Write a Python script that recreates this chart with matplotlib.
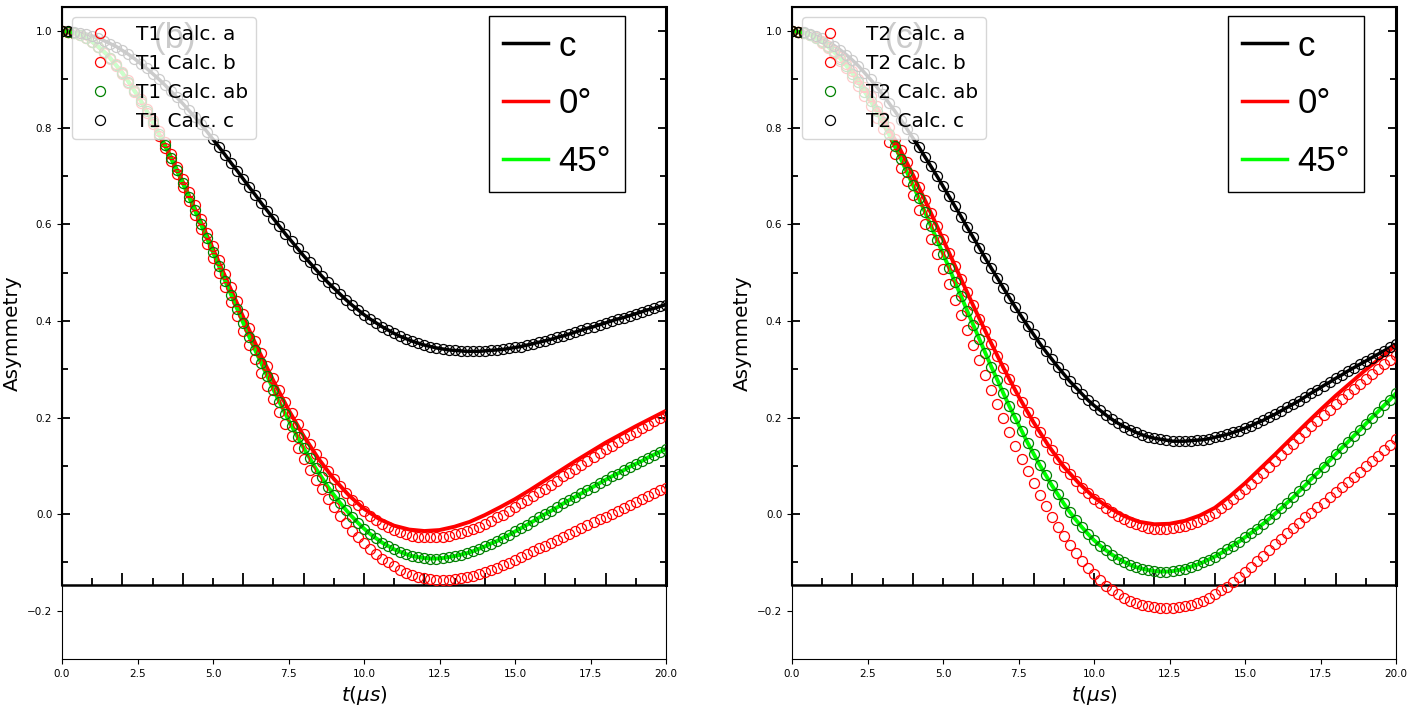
import numpy as np
import matplotlib
matplotlib.use('Agg')
import matplotlib.pyplot as plt
from matplotlib.lines import Line2D

# time grids: calc points every 0.2 us, scanned 0 deg curve every 0.5 us
t_calc = np.linspace(0.0, 20.0, 101)
t_scan = np.linspace(0.0, 20.0, 41)

# ---- panel (b) : T1 ----
t1_calc_a = [1.000, 0.999, 0.996, 0.992, 0.985, 0.977, 0.967, 0.955, 0.942, 0.927,
             0.911, 0.893, 0.873, 0.852, 0.830, 0.807, 0.783, 0.758, 0.732, 0.705,
             0.677, 0.648, 0.619, 0.590, 0.560, 0.530, 0.500, 0.470, 0.440, 0.410,
             0.380, 0.351, 0.322, 0.293, 0.265, 0.238, 0.212, 0.186, 0.161, 0.137,
             0.114, 0.092, 0.071, 0.051, 0.032, 0.014, -0.003, -0.019, -0.034, -0.047,
             -0.060, -0.072, -0.082, -0.092, -0.100, -0.108, -0.115, -0.121, -0.126, -0.130,
             -0.133, -0.135, -0.136, -0.137, -0.136, -0.135, -0.133, -0.131, -0.128, -0.124,
             -0.120, -0.116, -0.111, -0.106, -0.101, -0.095, -0.089, -0.083, -0.077, -0.071,
             -0.065, -0.059, -0.053, -0.047, -0.041, -0.035, -0.029, -0.023, -0.017, -0.011,
             -0.005, 0.001, 0.007, 0.013, 0.019, 0.025, 0.031, 0.037, 0.043, 0.049,
             0.055]
t1_calc_b = [1.000, 0.999, 0.996, 0.992, 0.986, 0.978, 0.968, 0.957, 0.945, 0.931,
             0.915, 0.898, 0.879, 0.860, 0.839, 0.817, 0.794, 0.770, 0.745, 0.719,
             0.693, 0.666, 0.639, 0.611, 0.583, 0.555, 0.527, 0.498, 0.470, 0.442,
             0.414, 0.386, 0.359, 0.333, 0.307, 0.281, 0.256, 0.232, 0.209, 0.187,
             0.165, 0.145, 0.125, 0.107, 0.089, 0.073, 0.058, 0.043, 0.030, 0.018,
             0.007, -0.003, -0.012, -0.020, -0.027, -0.033, -0.038, -0.042, -0.045, -0.047,
             -0.048, -0.048, -0.048, -0.047, -0.045, -0.042, -0.039, -0.035, -0.030, -0.026,
             -0.020, -0.014, -0.007, -0.001, 0.007, 0.014, 0.022, 0.029, 0.037, 0.045,
             0.053, 0.061, 0.069, 0.078, 0.086, 0.094, 0.102, 0.110, 0.118, 0.126,
             0.134, 0.142, 0.149, 0.157, 0.164, 0.171, 0.178, 0.185, 0.192, 0.198,
             0.205]
t1_calc_ab = [1.000, 0.999, 0.996, 0.992, 0.986, 0.978, 0.968, 0.957, 0.944, 0.929,
              0.913, 0.895, 0.876, 0.856, 0.835, 0.812, 0.788, 0.764, 0.738, 0.712,
              0.685, 0.657, 0.629, 0.600, 0.571, 0.542, 0.513, 0.483, 0.454, 0.425,
              0.396, 0.367, 0.339, 0.312, 0.285, 0.258, 0.232, 0.207, 0.183, 0.160,
              0.137, 0.116, 0.095, 0.076, 0.057, 0.040, 0.024, 0.009, -0.005, -0.018,
              -0.030, -0.041, -0.050, -0.059, -0.066, -0.073, -0.078, -0.083, -0.087, -0.089,
              -0.091, -0.092, -0.092, -0.091, -0.089, -0.087, -0.084, -0.081, -0.077, -0.072,
              -0.067, -0.061, -0.056, -0.049, -0.043, -0.036, -0.029, -0.022, -0.015, -0.007,
              0.000, 0.007, 0.014, 0.022, 0.029, 0.036, 0.043, 0.050, 0.057, 0.064,
              0.071, 0.078, 0.084, 0.091, 0.098, 0.104, 0.110, 0.117, 0.123, 0.129,
              0.135]
t1_calc_c = [1.000, 1.000, 0.998, 0.996, 0.994, 0.990, 0.986, 0.980, 0.974, 0.968,
             0.960, 0.952, 0.943, 0.933, 0.923, 0.912, 0.901, 0.889, 0.876, 0.863,
             0.850, 0.836, 0.822, 0.807, 0.792, 0.776, 0.760, 0.744, 0.727, 0.711,
             0.694, 0.677, 0.661, 0.644, 0.628, 0.612, 0.596, 0.580, 0.565, 0.550,
             0.535, 0.521, 0.507, 0.493, 0.480, 0.468, 0.456, 0.444, 0.433, 0.423,
             0.413, 0.404, 0.396, 0.388, 0.381, 0.374, 0.368, 0.363, 0.358, 0.354,
             0.350, 0.347, 0.344, 0.342, 0.340, 0.339, 0.338, 0.337, 0.337, 0.337,
             0.338, 0.339, 0.340, 0.341, 0.343, 0.345, 0.347, 0.350, 0.353, 0.356,
             0.359, 0.362, 0.366, 0.369, 0.373, 0.377, 0.381, 0.385, 0.388, 0.392,
             0.396, 0.400, 0.404, 0.407, 0.411, 0.415, 0.419, 0.423, 0.426, 0.430,
             0.434]
t1_scan_0deg = [1.000, 0.994, 0.978, 0.951, 0.914, 0.868, 0.814, 0.753, 0.688, 0.619,
                0.549, 0.478, 0.408, 0.340, 0.276, 0.216, 0.162, 0.114, 0.073, 0.039,
                0.011, -0.010, -0.024, -0.032, -0.035, -0.033, -0.026, -0.016, -0.002, 0.014,
                0.031, 0.050, 0.070, 0.090, 0.110, 0.129, 0.148, 0.165, 0.182, 0.198,
                0.214]

# ---- panel (c) : T2 ----
t2_calc_a = [1.000, 0.999, 0.996, 0.991, 0.985, 0.976, 0.965, 0.953, 0.939, 0.923,
             0.906, 0.887, 0.866, 0.845, 0.821, 0.797, 0.771, 0.745, 0.717, 0.689,
             0.660, 0.630, 0.600, 0.569, 0.538, 0.507, 0.476, 0.444, 0.413, 0.381,
             0.350, 0.319, 0.288, 0.257, 0.227, 0.198, 0.170, 0.142, 0.115, 0.089,
             0.064, 0.040, 0.017, -0.005, -0.026, -0.046, -0.064, -0.081, -0.097, -0.112,
             -0.125, -0.137, -0.148, -0.157, -0.166, -0.173, -0.179, -0.184, -0.188, -0.191,
             -0.193, -0.194, -0.195, -0.195, -0.193, -0.191, -0.188, -0.184, -0.179, -0.173,
             -0.166, -0.158, -0.150, -0.140, -0.131, -0.120, -0.109, -0.097, -0.086, -0.074,
             -0.062, -0.051, -0.040, -0.029, -0.018, -0.007, 0.003, 0.014, 0.024, 0.035,
             0.045, 0.056, 0.066, 0.077, 0.088, 0.099, 0.110, 0.121, 0.132, 0.144,
             0.155]
t2_calc_b = [1.000, 0.999, 0.997, 0.992, 0.987, 0.979, 0.970, 0.959, 0.947, 0.933,
             0.918, 0.901, 0.884, 0.865, 0.844, 0.823, 0.801, 0.777, 0.753, 0.729,
             0.703, 0.677, 0.650, 0.624, 0.596, 0.569, 0.541, 0.514, 0.486, 0.459,
             0.432, 0.405, 0.379, 0.353, 0.328, 0.303, 0.279, 0.256, 0.233, 0.211,
             0.190, 0.170, 0.150, 0.132, 0.115, 0.098, 0.083, 0.069, 0.055, 0.043,
             0.032, 0.022, 0.012, 0.004, -0.003, -0.010, -0.016, -0.021, -0.025, -0.028,
             -0.030, -0.031, -0.030, -0.029, -0.027, -0.024, -0.020, -0.016, -0.010, -0.004,
             0.003, 0.012, 0.021, 0.031, 0.041, 0.052, 0.063, 0.075, 0.086, 0.098,
             0.110, 0.122, 0.134, 0.146, 0.158, 0.170, 0.182, 0.193, 0.205, 0.216,
             0.227, 0.238, 0.249, 0.259, 0.270, 0.280, 0.290, 0.300, 0.310, 0.320,
             0.330]
t2_calc_ab = [1.000, 0.999, 0.996, 0.992, 0.985, 0.977, 0.967, 0.956, 0.943, 0.928,
              0.912, 0.894, 0.875, 0.855, 0.834, 0.811, 0.787, 0.762, 0.736, 0.709,
              0.682, 0.654, 0.626, 0.597, 0.568, 0.539, 0.510, 0.480, 0.451, 0.421,
              0.392, 0.363, 0.334, 0.305, 0.278, 0.250, 0.223, 0.198, 0.173, 0.148,
              0.125, 0.102, 0.081, 0.060, 0.041, 0.022, 0.004, -0.012, -0.027, -0.041,
              -0.054, -0.065, -0.075, -0.084, -0.092, -0.099, -0.105, -0.110, -0.113, -0.116,
              -0.118, -0.119, -0.119, -0.118, -0.116, -0.113, -0.109, -0.105, -0.100, -0.094,
              -0.088, -0.081, -0.073, -0.065, -0.057, -0.048, -0.039, -0.030, -0.020, -0.010,
              0.001, 0.012, 0.024, 0.035, 0.048, 0.060, 0.073, 0.085, 0.098, 0.111,
              0.124, 0.137, 0.149, 0.162, 0.174, 0.187, 0.200, 0.212, 0.225, 0.237,
              0.250]
t2_calc_c = [1.000, 0.999, 0.998, 0.995, 0.990, 0.985, 0.978, 0.970, 0.961, 0.951,
             0.940, 0.928, 0.914, 0.900, 0.885, 0.869, 0.852, 0.835, 0.817, 0.798,
             0.779, 0.760, 0.740, 0.720, 0.700, 0.679, 0.658, 0.637, 0.616, 0.594,
             0.573, 0.552, 0.530, 0.509, 0.489, 0.468, 0.448, 0.428, 0.409, 0.390,
             0.372, 0.354, 0.337, 0.321, 0.305, 0.290, 0.275, 0.262, 0.249, 0.236,
             0.225, 0.215, 0.205, 0.196, 0.188, 0.181, 0.175, 0.169, 0.164, 0.160,
             0.157, 0.155, 0.153, 0.151, 0.151, 0.151, 0.152, 0.153, 0.154, 0.156,
             0.159, 0.162, 0.165, 0.169, 0.173, 0.178, 0.183, 0.189, 0.194, 0.201,
             0.207, 0.214, 0.221, 0.228, 0.235, 0.243, 0.251, 0.258, 0.266, 0.273,
             0.281, 0.288, 0.296, 0.303, 0.310, 0.317, 0.324, 0.331, 0.338, 0.345,
             0.352]
t2_scan_0deg = [1.000, 0.995, 0.979, 0.953, 0.918, 0.874, 0.823, 0.765, 0.703, 0.637,
                0.569, 0.500, 0.432, 0.366, 0.303, 0.244, 0.190, 0.141, 0.098, 0.064,
                0.035, 0.013, -0.004, -0.016, -0.021, -0.020, -0.014, -0.003, 0.013, 0.037,
                0.064, 0.094, 0.124, 0.155, 0.186, 0.216, 0.245, 0.272, 0.299, 0.324,
                0.350]

SCAN_FONT = ['Liberation Sans Narrow', 'Liberation Sans', 'DejaVu Sans']


def draw_panel(ax, tag, panel_label, calc_a, calc_b, calc_ab, calc_c, scan_0deg, box_x):
    ax.set_xlim(0, 20)
    ax.set_ylim(-0.3, 1.05)
    ax.patch.set_alpha(0)

    # scanned figure pasted underneath
    sc = ax.inset_axes([0.0, -0.147, 20.0, 1.197], transform=ax.transData, zorder=0.5)
    sc.set_xlim(0, 20)
    sc.set_ylim(-0.147, 1.05)
    # scanned c and 45 deg curves sit right under the calc points
    sc.plot(t_calc, calc_c, color='black', lw=2.5)
    sc.plot(t_scan, scan_0deg, color='red', lw=2.8)
    sc.plot(t_calc, calc_ab, color='#00ff00', lw=2.8)
    sc.text(3.74, 0.985, panel_label, fontsize=25, family=SCAN_FONT,
            ha='center', va='center', color='black')
    sc.set_xticks([2, 4, 6, 8, 10, 12, 14, 16, 18])
    sc.set_xticks([1, 3, 5, 7, 9, 11, 13, 15, 17, 19], minor=True)
    sc.set_yticks([0.0, 0.2, 0.4, 0.6, 0.8, 1.0])
    sc.set_yticks([-0.1, 0.1, 0.3, 0.5, 0.7, 0.9], minor=True)
    sc.tick_params(which='both', direction='in', width=1.3, color='black',
                   labelbottom=False, labelleft=False, left=True, right=True,
                   top=False, bottom=True)
    sc.tick_params(axis='x', which='major', length=8.5)
    sc.tick_params(axis='x', which='minor', length=5)
    sc.tick_params(axis='y', which='major', length=6)
    sc.tick_params(axis='y', which='minor', length=4)
    sc.spines['bottom'].set_linewidth(1.8)
    sc.spines['right'].set_linewidth(2.2)
    sc.spines['left'].set_linewidth(1.5)
    sc.spines['top'].set_linewidth(1.5)
    handles = [Line2D([], [], color='black', lw=2.5),
               Line2D([], [], color='red', lw=2.5),
               Line2D([], [], color='#00ff00', lw=2.5)]
    leg = sc.legend(handles, ['c', '0°', '45°'], loc='upper left',
                    bbox_to_anchor=(box_x, 1.032), bbox_transform=sc.transData,
                    borderaxespad=0, borderpad=0.4, handlelength=1.3,
                    handletextpad=0.3, labelspacing=0.71, fancybox=False,
                    framealpha=1, edgecolor='black',
                    prop={'family': SCAN_FONT, 'size': 25})
    leg.get_frame().set_linewidth(1.0)

    # calculated points
    kw = dict(ls='none', marker='o', ms=7.2, mfc='none', mew=0.9)
    ax.plot(t_calc, calc_a, mec='red', label=tag + ' Calc. a', **kw)
    ax.plot(t_calc, calc_b, mec='red', label=tag + ' Calc. b', **kw)
    ax.plot(t_calc, calc_ab, mec='green', label=tag + ' Calc. ab', **kw)
    ax.plot(t_calc, calc_c, mec='black', label=tag + ' Calc. c', **kw)
    ax.legend(loc='upper left', fontsize=14.4, labelspacing=0.5)

    ax.set_xticks([0, 2.5, 5, 7.5, 10, 12.5, 15, 17.5, 20])
    ax.set_yticks([-0.2, 0.0, 0.2, 0.4, 0.6, 0.8, 1.0])
    ax.tick_params(labelsize=7.5)
    ax.set_xlabel(r'$t(\mu s)$', fontsize=14.4)
    ax.set_ylabel('Asymmetry', fontsize=14.4)


fig = plt.figure(figsize=(14.14, 7.10), dpi=100)
ax1 = fig.add_axes([62 / 1414, 51 / 710, 604 / 1414, 652 / 710])
ax2 = fig.add_axes([792 / 1414, 51 / 710, 604 / 1414, 652 / 710])

draw_panel(ax1, 'T1', '(b)', t1_calc_a, t1_calc_b, t1_calc_ab, t1_calc_c, t1_scan_0deg, 14.14)
draw_panel(ax2, 'T2', '(c)', t2_calc_a, t2_calc_b, t2_calc_ab, t2_calc_c, t2_scan_0deg, 14.44)

fig.savefig('out.png', dpi=100)
